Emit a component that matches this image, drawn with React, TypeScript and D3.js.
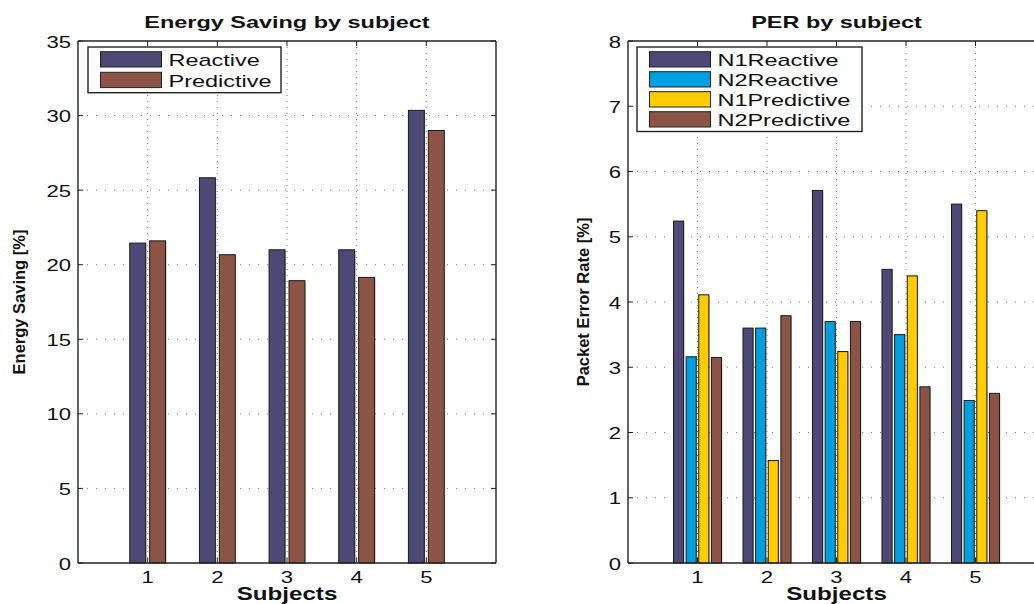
import React from "react";
import * as d3 from "d3";

const subjects = [1, 2, 3, 4, 5];
const esReactive = [21.45, 25.83, 21.0, 21.0, 30.35];
const esPredictive = [21.6, 20.67, 18.93, 19.15, 29.0];
const esTicks = [0, 5, 10, 15, 20, 25, 30, 35];

const perN1Reactive = [5.24, 3.6, 5.71, 4.5, 5.5];
const perN2Reactive = [3.16, 3.6, 3.7, 3.5, 2.49];
const perN1Predictive = [4.11, 1.57, 3.24, 4.4, 5.4];
const perN2Predictive = [3.15, 3.79, 3.7, 2.7, 2.6];
const perTicks = [0, 1, 2, 3, 4, 5, 6, 7, 8];

const C_PURPLE = "#4e4877";
const C_BROWN = "#8c5444";
const C_CYAN = "#009fe0";
const C_YELLOW = "#ffcc00";

const FONT = "'Liberation Sans', Arial, Helvetica, sans-serif";
const NARROW = "'Liberation Sans Narrow', 'Arial Narrow', 'Liberation Sans', sans-serif";
const SX = 1.38;

type Series = { name: string; values: number[]; color: string };

function WideText(props: { x: number; y: number; size: number; bold?: boolean; anchor?: string; children: any }) {
  return (
    <text
      transform={`translate(${props.x},${props.y}) scale(${SX},1)`}
      textAnchor={props.anchor || "start"}
      fontFamily={FONT}
      fontWeight={props.bold ? "bold" : "normal"}
      fontSize={props.size}
      fill="#111"
    >
      {props.children}
    </text>
  );
}

function BarPanel(props: {
  left: number; right: number; top: number; bottom: number;
  yMax: number; yTicks: number[]; series: Series[];
  title: string; ylabel: string; ylabelX: number;
  legend: { x: number; y: number; w: number; rowH: number };
}) {
  const { left, right, top, bottom, yMax, yTicks, series, title, ylabel, ylabelX, legend } = props;
  const x = d3.scaleLinear().domain([0, 6]).range([left, right]);
  const y = d3.scaleLinear().domain([0, yMax]).range([bottom, top]);
  const n = series.length;
  const groupW = Math.min(0.8, n / (n + 1.5));
  const slot = groupW / n;
  const barW = slot * 0.8;
  const cx = (left + right) / 2;
  return (
    <g>
      {subjects.map((s) => (
        <line key={"gx" + s} x1={x(s)} x2={x(s)} y1={top} y2={bottom} stroke="#777" strokeWidth={1} strokeDasharray="1,5" />
      ))}
      {yTicks.filter((t) => t > 0 && t < yMax).map((t) => (
        <line key={"gy" + t} x1={left} x2={right} y1={y(t)} y2={y(t)} stroke="#777" strokeWidth={1} strokeDasharray="1,8" />
      ))}
      {series.map((se, i) =>
        se.values.map((v, j) => {
          const c = subjects[j] - groupW / 2 + slot * (i + 0.5);
          const x0 = x(c - barW / 2);
          const x1 = x(c + barW / 2);
          return (
            <g key={se.name + j}>
              <rect x={x0 + 1} y={y(v) + 1} width={x1 - x0} height={bottom - y(v) - 1} fill="#999" opacity={0.5} />
              <rect x={x0} y={y(v)} width={x1 - x0} height={bottom - y(v)} fill={se.color} stroke="#1a1a1a" strokeWidth={1} />
            </g>
          );
        })
      )}
      <line x1={left} x2={left} y1={top} y2={bottom} stroke="#222" strokeWidth={1.4} />
      <line x1={left} x2={right} y1={bottom} y2={bottom} stroke="#222" strokeWidth={1.4} />
      <line x1={left} x2={right} y1={top} y2={top} stroke="#222" strokeWidth={1.4} />
      <line x1={right} x2={right} y1={top} y2={bottom} stroke="#222" strokeWidth={1.4} />
      {subjects.map((s) => (
        <g key={"tx" + s}>
          <line x1={x(s)} x2={x(s)} y1={bottom} y2={bottom - 5} stroke="#222" />
          <line x1={x(s)} x2={x(s)} y1={top} y2={top + 5} stroke="#222" />
          <WideText x={x(s)} y={bottom + 20} size={16} anchor="middle">{s}</WideText>
        </g>
      ))}
      {yTicks.map((t) => (
        <g key={"ty" + t}>
          <line x1={left} x2={left + 5} y1={y(t)} y2={y(t)} stroke="#222" />
          <line x1={right} x2={right - 5} y1={y(t)} y2={y(t)} stroke="#222" />
          <WideText x={left - 7} y={y(t) + 6.5} size={16} anchor="end">{t}</WideText>
        </g>
      ))}
      <WideText x={cx} y={28} size={17} bold anchor="middle">{title}</WideText>
      <WideText x={cx} y={600} size={17.5} bold anchor="middle">Subjects</WideText>
      <text transform={`translate(${ylabelX},${(top + bottom) / 2}) rotate(-90)`} textAnchor="middle" fontFamily={NARROW} fontWeight="bold" fontSize={16.5} fill="#111">{ylabel}</text>
      <rect x={legend.x} y={legend.y} width={legend.w} height={series.length * legend.rowH + 4.5} fill="#fff" stroke="#222" strokeWidth={1.4} />
      {series.map((se, i) => {
        const ry = legend.y + 4.7 + i * legend.rowH;
        return (
          <g key={"lg" + se.name}>
            <rect x={legend.x + 12.5} y={ry} width={61} height={15.3} fill={se.color} stroke="#222" strokeWidth={1} />
            <WideText x={legend.x + 80.5} y={ry + 14.2} size={17}>{se.name}</WideText>
          </g>
        );
      })}
    </g>
  );
}

export default function App() {
  const leftSeries: Series[] = [
    { name: "Reactive", values: esReactive, color: C_PURPLE },
    { name: "Predictive", values: esPredictive, color: C_BROWN },
  ];
  const rightSeries: Series[] = [
    { name: "N1Reactive", values: perN1Reactive, color: C_PURPLE },
    { name: "N2Reactive", values: perN2Reactive, color: C_CYAN },
    { name: "N1Predictive", values: perN1Predictive, color: C_YELLOW },
    { name: "N2Predictive", values: perN2Predictive, color: C_BROWN },
  ];
  return (
    <svg width={1034} height={604} style={{ position: "absolute", left: 0, top: 0, background: "#fff" }}>
      <rect x={0} y={0} width={1034} height={604} fill="#fff" />
      <BarPanel left={78} right={496} top={41} bottom={563} yMax={35} yTicks={esTicks}
        series={leftSeries} title="Energy Saving by subject" ylabel="Energy Saving [%]" ylabelX={25}
        legend={{ x: 88, y: 47, w: 193, rowH: 20.6 }} />
      <BarPanel left={628} right={1045} top={41} bottom={563} yMax={8} yTicks={perTicks}
        series={rightSeries} title="PER by subject" ylabel="Packet Error Rate [%]" ylabelX={589}
        legend={{ x: 637, y: 47, w: 225, rowH: 20 }} />
    </svg>
  );
}
